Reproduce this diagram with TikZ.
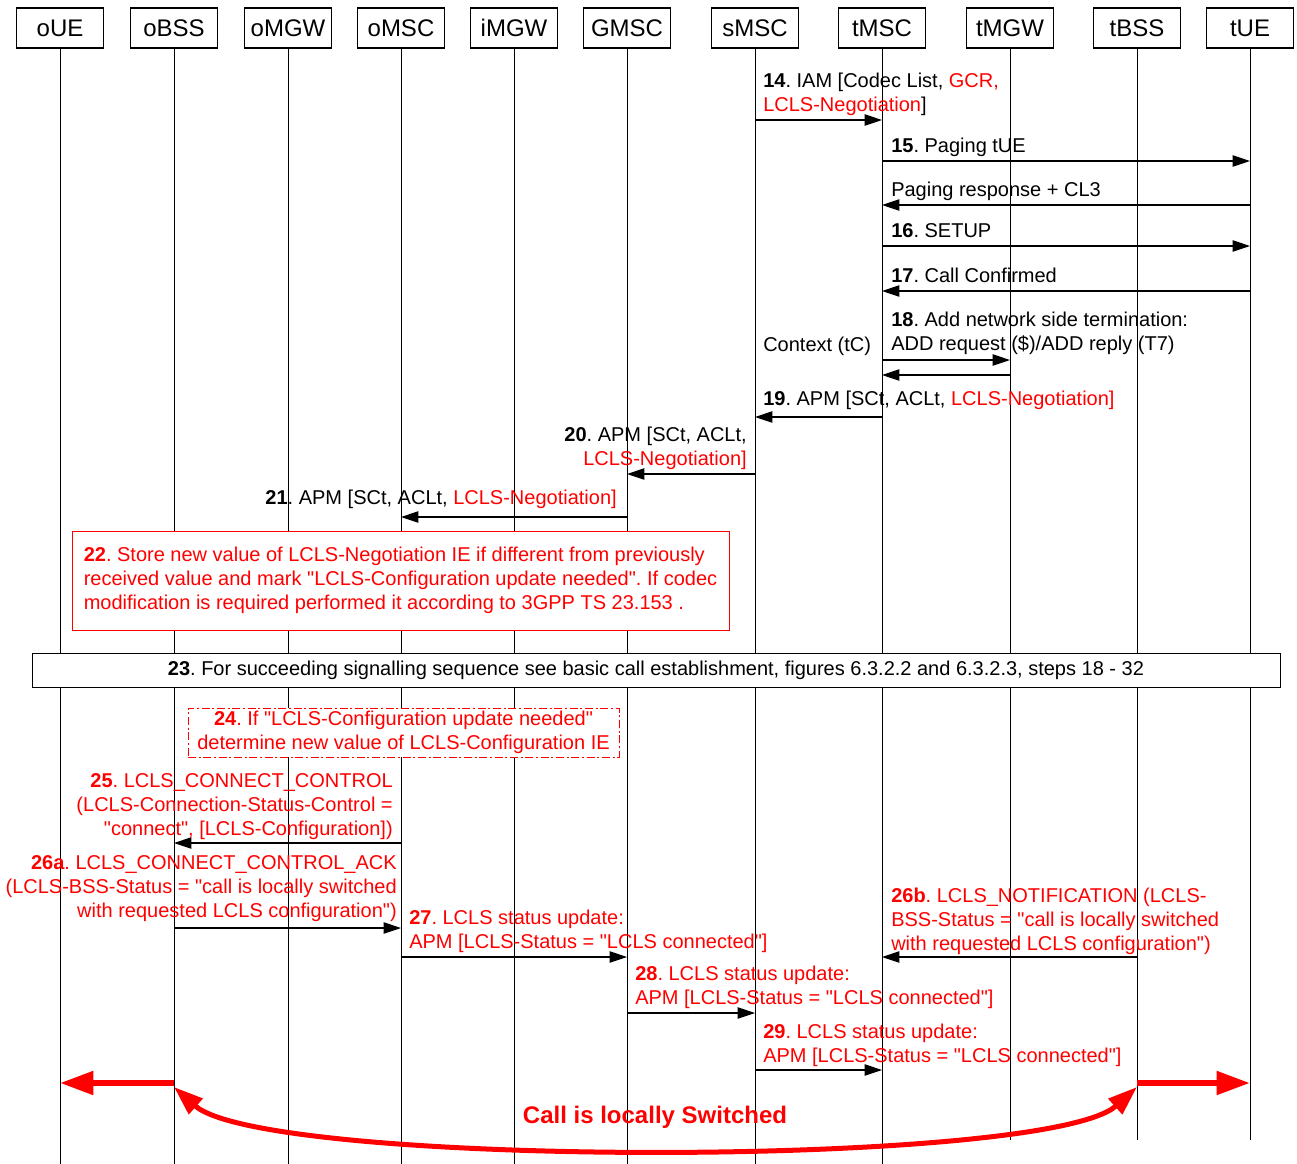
\documentclass[tikz,border=0pt]{standalone}
\usepackage{fontspec}
\setmainfont{Liberation Sans}[Ligatures=TeXOff]
\usetikzlibrary{arrows.meta,calc,positioning}

\newcommand\rd[1]{\textcolor{red}{#1}}

\begin{document}
\frenchspacing
\begin{tikzpicture}[
    x=0.75pt, y=-0.75pt,
    every node/.style={font=\fontsize{15}{18}\selectfont},
    hdr/.style={draw, line width=0.8pt, minimum width=65pt, minimum height=30pt, inner sep=0pt, font=\fontsize{18}{21}\selectfont},
    life/.style={line width=0.75pt},
    msg/.style={-{Triangle[length=13pt, width=8.5pt]}, line width=0.8pt},
    lbl/.style={inner sep=0pt, text depth=3pt},
    redbox/.style={draw=red, fill=white, line width=0.75pt, text=red},
    bigarrow/.style={-{Triangle[length=25pt, width=17pt]}, red, line width=4.5pt},
]
\useasboundingbox (0,0) rectangle (1297,1164);

% Entities
\foreach \n/\x in {oUE/60, oBSS/174, oMGW/288, oMSC/401, iMGW/514, GMSC/627,
                   sMSC/755, tMSC/882, tMGW/1010, tBSS/1137, tUE/1250} {
    \node[hdr] (\n) at (\x,28) {\n};
}

% Lifelines
\coordinate (bot) at (0,1164);
\coordinate (botshort) at (0,1140);
\foreach \n in {oUE,oBSS,oMGW,oMSC,iMGW,GMSC,sMSC,tMSC} {
    \draw[life] (\n.south) -- (\n |- bot);
}
\foreach \n in {tMGW,tBSS,tUE} {
    \draw[life] (\n.south) -- (\n |- botshort);
}

% Messages
\foreach \a/\b/\y in {sMSC/tMSC/120, tMSC/tUE/161, tUE/tMSC/205, tMSC/tUE/246,
                      tUE/tMSC/291, tMSC/tMGW/360, tMGW/tMSC/375, tMSC/sMSC/417,
                      sMSC/GMSC/474, GMSC/oMSC/517, oMSC/oBSS/843, oBSS/oMSC/928,
                      oMSC/GMSC/957, tBSS/tMSC/957, GMSC/sMSC/1013, sMSC/tMSC/1070} {
    \coordinate (row) at (0,\y);
    \draw[msg] (\a |- row) -- (\b |- row);
}

% Message labels
\node[lbl, align=left, anchor=south west] (l14) at (763,116)
    {\textbf{14}. IAM [Codec List, \rd{GCR,}\\ \rd{LCLS-Negotiation}]};
\node[lbl, anchor=south west] (l15) at (891,157) {\textbf{15}. Paging tUE};
\node[lbl, anchor=south west] (lpr) at (891,201) {Paging response + CL3};
\node[lbl, anchor=south west] (l16) at (891,242) {\textbf{16}. SETUP};
\node[lbl, anchor=south west] (l17) at (891,287) {\textbf{17}. Call Confirmed};
\node[lbl, align=left, anchor=south west] (l18) at (891,355)
    {\textbf{18}. Add network side termination:\\ ADD request (\$)/ADD reply (T7)};
\node[lbl, anchor=south west] (ctx) at (763,356) {Context (tC)};
\node[lbl, anchor=south west] (l19) at (763,410)
    {\textbf{19}. APM [SCt, ACLt, \rd{LCLS-Negotiation]}};
\node[lbl, align=right, anchor=south east] (l20) at (747,470)
    {\textbf{20}. APM [SCt, ACLt,\\ \rd{LCLS-Negotiation]}};
\node[lbl, anchor=south east] (l21) at (617,509)
    {\textbf{21}. APM [SCt, ACLt, \rd{LCLS-Negotiation]}};

% Notes
\node[redbox, minimum width=492.75pt, minimum height=74.25pt, inner sep=0pt,
      align=left] (n22) at (400.5,580.5)
    {\textbf{22}. Store new value of LCLS-Negotiation IE if different from previously\\
     received value and mark "LCLS-Configuration update needed". If codec\\
     modification is required performed it according to 3GPP TS 23.153 .};
\node[draw, fill=white, line width=0.75pt, minimum width=936pt, minimum height=25.5pt,
      inner sep=0pt] (n23) at (656,670)
    {\textbf{23}. For succeeding signalling sequence see basic call establishment, figures 6.3.2.2 and 6.3.2.3, steps 18 - 32};
\node[redbox, dash pattern=on 6pt off 2pt on 1.5pt off 2pt, minimum width=323.25pt,
      minimum height=36.75pt, inner sep=0pt, align=center] (n24) at (403.5,732.5)
    {\textbf{24}. If "LCLS-Configuration update needed"\\ determine new value of LCLS-Configuration IE};

% LCLS signalling
\node[lbl, text=red, align=right, anchor=south east] (l25) at (393,840)
    {\textbf{25}. LCLS\_CONNECT\_CONTROL\\ (LCLS-Connection-Status-Control =\\ "connect", [LCLS-Configuration])};
\node[lbl, text=red, align=right, anchor=south east] (l26a) at (397,922)
    {\textbf{26a}. LCLS\_CONNECT\_CONTROL\_ACK\\ (LCLS-BSS-Status = "call is locally switched\\ with requested LCLS configuration")};
\node[lbl, text=red, align=left, anchor=south west] (l27) at (409,953)
    {\textbf{27}. LCLS status update:\\ APM [LCLS-Status = "LCLS connected"]};
\node[lbl, text=red, align=left, anchor=south west] (l26b) at (891,955)
    {\textbf{26b}. LCLS\_NOTIFICATION (LCLS-\\ BSS-Status = "call is locally switched\\ with requested LCLS configuration")};
\node[lbl, text=red, align=left, anchor=south west] (l28) at (635,1009)
    {\textbf{28}. LCLS status update:\\ APM [LCLS-Status = "LCLS connected"]};
\node[lbl, text=red, align=left, anchor=south west] (l29) at (763,1067)
    {\textbf{29}. LCLS status update:\\ APM [LCLS-Status = "LCLS connected"]};

% Local switching
\coordinate (sw) at (0,1083);
\coordinate (arc) at (0,1087);
\draw[bigarrow] (oBSS |- sw) -- (oUE |- sw);
\draw[bigarrow] (tBSS |- sw) -- (tUE |- sw);
\draw[{Triangle[length=22pt, width=15pt]}-{Triangle[length=22pt, width=15pt]}, red, line width=3.75pt]
    (oBSS |- arc) .. controls (265,1168) and (1047,1168) .. (tBSS |- arc);
\node[text=red, font=\bfseries\fontsize{18}{21}\selectfont] (lsw) at (655,1117) {Call is locally Switched};

\end{tikzpicture}
\end{document}
